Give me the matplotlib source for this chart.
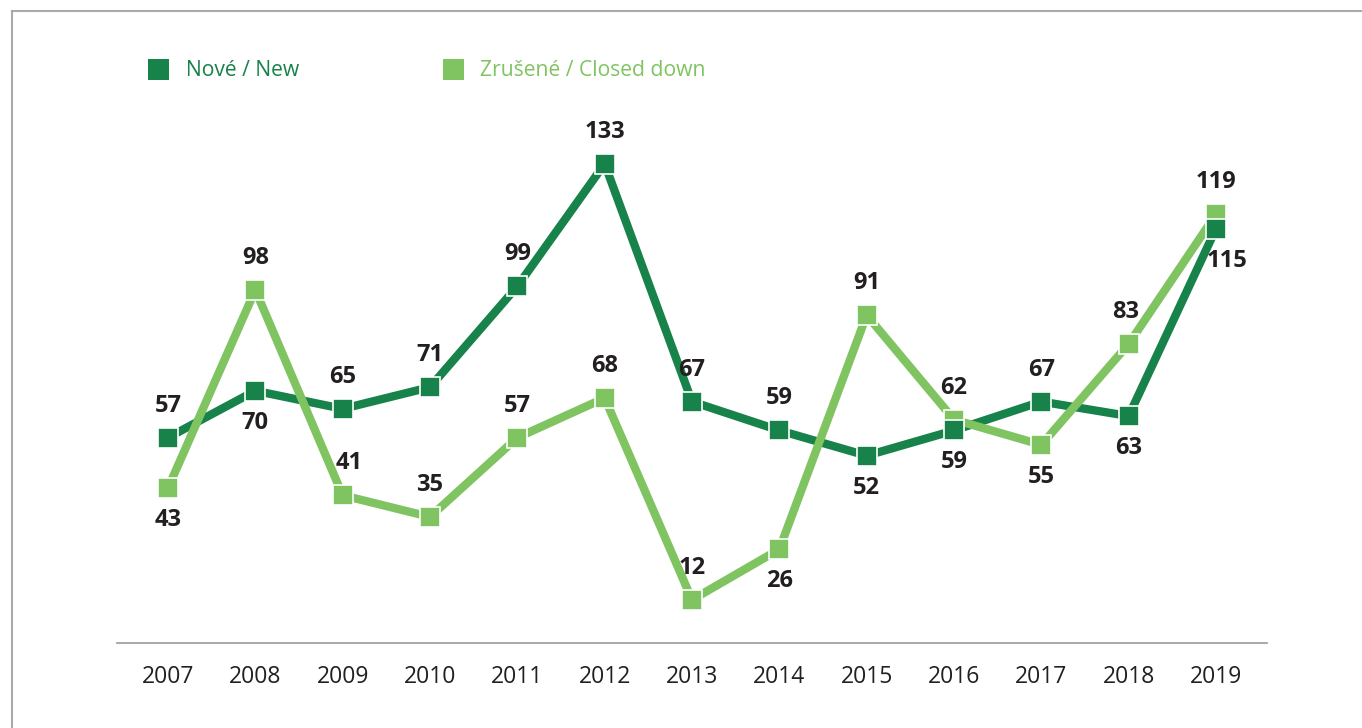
import matplotlib
matplotlib.use("Agg")
import matplotlib.pyplot as plt
from matplotlib.patches import Rectangle
from matplotlib.lines import Line2D

years = [2007, 2008, 2009, 2010, 2011, 2012, 2013, 2014, 2015, 2016, 2017, 2018, 2019]
new_vals = [57, 70, 65, 71, 99, 133, 67, 59, 52, 59, 67, 63, 115]
closed_vals = [43, 98, 41, 35, 57, 68, 12, 26, 91, 62, 55, 83, 119]
# label placement: +1 above, -1 below
new_pos = [1, -1, 1, 1, 1, 1, 1, 1, -1, -1, 1, -1, -1]
closed_pos = [-1, 1, 1, 1, 1, 1, 1, -1, 1, 1, -1, 1, 1]
series_names = ["Nové / New", "Zrušené / Closed down"]

DARK = "#17824a"
LIGHT = "#80c462"
TEXT = "#231f20"

plt.rcParams['font.family'] = ['Open Sans', 'DejaVu Sans']

W, H = 1362, 728
fig = plt.figure(figsize=(W / 100, H / 100), dpi=100)

def fx(px):
    return px / W

def fy(py):
    return 1 - py / H

# axes: left 117, right 1267, bottom 643, top for ylim 150
ymax = 150
ppu = 3.603
top_px = 643 - ymax * ppu
ax = fig.add_axes([fx(117), fy(643), fx(1267) - fx(117), (643 - top_px) / H])
ax.set_xlim(2006.416, 2019.584)
ax.set_ylim(0, ymax)

ax.plot(years, new_vals, color=DARK, lw=6, zorder=2, solid_capstyle='butt')
ax.plot(years, closed_vals, color=LIGHT, lw=6, zorder=3, solid_capstyle='butt')
ax.plot(years, closed_vals, ls='none', marker='s', ms=14.8, mfc=LIGHT,
        mec='white', mew=1.2, zorder=4)
ax.plot(years, new_vals, ls='none', marker='s', ms=14.8, mfc=DARK,
        mec='white', mew=1.2, zorder=5)

dx_closed = {2009: 7, 2018: -3}
dx_new = {2019: 11}
for i, y in enumerate(years):
    ax.annotate(str(new_vals[i]), (y, new_vals[i]),
                xytext=(dx_new.get(y, 0) * 0.72, new_pos[i] * 23),
                textcoords='offset points', ha='center', va='center',
                fontsize=17, fontweight='bold', color=TEXT, zorder=6)
    ax.annotate(str(closed_vals[i]), (y, closed_vals[i]),
                xytext=(dx_closed.get(y, 0) * 0.72, closed_pos[i] * 23),
                textcoords='offset points', ha='center', va='center',
                fontsize=17, fontweight='bold', color=TEXT, zorder=6)

for s in ['top', 'right', 'left']:
    ax.spines[s].set_visible(False)
ax.spines['bottom'].set_color('#999999')
ax.spines['bottom'].set_linewidth(1.2)
ax.set_yticks([])
ax.set_xticks(years)
ax.set_xticklabels([str(y) for y in years], fontsize=16.5, color=TEXT)
ax.tick_params(axis='x', length=0, pad=16)

# frame
fig.add_artist(Line2D([fx(12), fx(12)], [fy(11), 0], color='#aaaaaa', lw=1.5))
fig.add_artist(Line2D([fx(12), 1], [fy(11), fy(11)], color='#aaaaaa', lw=1.5))

# legend
fig.add_artist(Rectangle((fx(148), fy(80)), fx(21), 21 / H, color=DARK, lw=0))
fig.text(fx(186), fy(70), series_names[0], color=DARK, fontsize=15.2, va='center', ha='left')
fig.add_artist(Rectangle((fx(443), fy(80)), fx(21), 21 / H, color=LIGHT, lw=0))
fig.text(fx(480), fy(70), series_names[1], color=LIGHT, fontsize=15.2, va='center', ha='left')

fig.savefig("out.png", dpi=100)
